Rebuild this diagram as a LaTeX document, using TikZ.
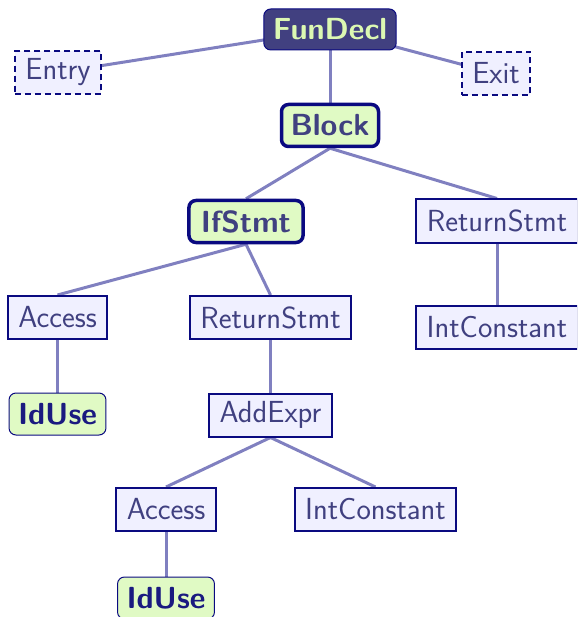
\documentclass[tikz,border=0pt]{standalone}
\usepackage{fontspec}
\usetikzlibrary{backgrounds}
\begin{document}
\definecolor{boxfill}{RGB}{240,240,255}
\definecolor{boxdraw}{RGB}{10,10,128}
\definecolor{txt}{RGB}{64,64,128}
\definecolor{edge}{RGB}{128,128,192}
\definecolor{dark}{RGB}{65,64,128}
\definecolor{lgreen}{RGB}{224,250,196}
\definecolor{gtext}{RGB}{220,248,178}
\definecolor{navytxt}{RGB}{26,26,128}
\tikzset{
  base/.style={font=\sffamily\fontsize{30.5}{34}\selectfont, minimum height=43pt, inner xsep=10.5pt, inner ysep=3pt, text=txt},
  plain/.style={base, draw=boxdraw, fill=boxfill, line width=2pt},
  dashbox/.style={base, draw=boxdraw, fill=boxfill, line width=2pt, dash pattern=on 6pt off 4pt},
  topbox/.style={base, font=\sffamily\bfseries\fontsize{30.5}{34}\selectfont, draw=boxdraw, fill=dark, text=gtext, line width=1pt, rounded corners=7pt, minimum height=41pt, inner xsep=9pt},
  thickbox/.style={base, font=\sffamily\bfseries\fontsize{30.5}{34}\selectfont, draw=boxdraw, fill=lgreen, line width=3.5pt, rounded corners=7pt, minimum height=42pt, inner xsep=9pt},
  leafbox/.style={base, font=\sffamily\bfseries\fontsize{30.5}{34}\selectfont, draw=boxdraw, fill=lgreen, text=navytxt, line width=1pt, rounded corners=7pt, minimum height=42pt, inner xsep=9pt},
  link/.style={draw=edge, line width=3pt}
}
\begin{tikzpicture}[x=1pt,y=-1pt]
\useasboundingbox (0,0) rectangle (577,617);
\clip (0,0) rectangle (577,617);
\node[topbox] (fun) at (330,29.5) {FunDecl};
\node[dashbox] (entry) at (58,72.5) {Entry};
\node[dashbox] (exit) at (496,73.5) {Exit};
\node[thickbox] (block) at (330,125.5) {Block};
\node[thickbox, inner xsep=12pt] (if) at (246,221.5) {IfStmt};
\node[plain] (ret1) at (497,221) {ReturnStmt};
\node[plain] (int1) at (497,327.5) {IntConstant};
\node[plain] (acc1) at (57.5,317.5) {Access};
\node[plain] (ret2) at (270.5,317.5) {ReturnStmt};
\node[leafbox] (id1) at (57.5,414) {IdUse};
\node[plain] (add) at (270.5,415) {AddExpr};
\node[plain] (acc2) at (166,509.5) {Access};
\node[plain] (int2) at (375.5,509.5) {IntConstant};
\node[leafbox] (id2) at (166,598) {IdUse};
\begin{scope}[on background layer]
\draw[link] (fun.center) -- (entry.center);
\draw[link] (fun.center) -- (exit.center);
\draw[link] (fun) -- (block);
\draw[link] (block.south) -- (if.north);
\draw[link] (block.south) -- (ret1.north);
\draw[link] (ret1) -- (int1);
\draw[link] (if.south) -- (acc1.north);
\draw[link] (if.south) -- (ret2.north);
\draw[link] (acc1) -- (id1);
\draw[link] (ret2) -- (add);
\draw[link] (add.south) -- (acc2.north);
\draw[link] (add.south) -- (int2.north);
\draw[link] (acc2) -- (id2);
\end{scope}
\end{tikzpicture}
\end{document}
